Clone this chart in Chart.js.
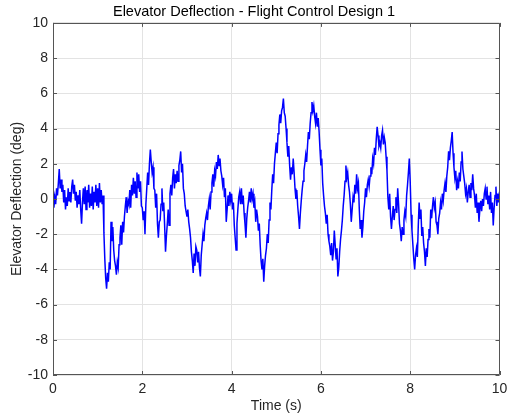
<!DOCTYPE html>
<html>
<head>
<meta charset="utf-8">
<script src="https://cdn.jsdelivr.net/npm/chart.js@4.4.0/dist/chart.umd.min.js"></script>
<style>
  html, body { margin: 0; padding: 0; background: #fff; }
  #wrap { width: 508px; height: 418px; }
</style>
</head>
<body>
<div id="wrap"><canvas id="chart" width="508" height="418"></canvas></div>
<script>
// muestreo de la señal (s)
const dt = 0.02;
const xTicks = [0, 2, 4, 6, 8, 10];
const yTicks = [-10, -8, -6, -4, -2, 0, 2, 4, 6, 8, 10];

// deflexión del elevador (deg), 5 muestras por cada 0.1 s
const deflection = [
  0.3, -0.5, 0.1, -0.3, 0.6,
  0.2, 0.9, 1.7, 0.6, 1.1,
  0.4, 0.8, -0.2, 0.5, -0.6,
  0.1, -0.4, 0.6, -0.1, 0.4,
  -0.2, 0.7, 1.1, 0.3, 0.8,
  -0.1, 0.4, -0.5, 0.2, -0.3,
  0.5, -0.6, -1.4, -0.2, 0.6,
  -0.3, 0.7, -0.6, 0.5, -0.2,
  0.8, -0.5, 0.3, -0.4, 0.7,
  -0.6, 0.4, -0.2, 0.8, -0.4,
  0.6, -0.5, 0.9, -0.2, 0.5,
  -0.3, 0.2, -1.9, -3.4, -4.5,
  -5.1, -4.2, -4.7, -3.6, -4.0,
  -1.3, -2.4, -1.6, -2.9, -3.5,
  -3.8, -4.3, -3.6, -3.9, -2.6,
  -2.2, -1.5, -2.6, -1.3, -1.9,
  -1.0, -0.4, 0.1, -0.8, -0.1,
  -0.3, 0.5, -0.5, 0.8, 0.2,
  1.2, 0.3, 1.0, 0.1, 1.5,
  0.6, 1.4, 0.4, 1.0, -0.4,
  -0.5, -1.2, -0.7, -2.0, -0.3,
  0.6, 1.5, 0.8, 2.0, 2.8,
  2.1, 1.5, 1.8, 0.6, 0.5,
  -0.5, 0.3, -1.4, -2.2, -1.3,
  -1.2, -0.3, 0.6, -0.7, -0.2,
  -1.5, -3.0, -2.1, -1.4, -0.6,
  -1.5, 0.3, 0.8, 0.2, 1.2,
  1.7, 0.6, 1.4, 0.9, 1.6,
  1.0, 1.9, 2.2, 2.7, 1.5,
  2.0, 0.6, 0.3, -0.4, -0.7,
  -1.0, -0.6, -1.3, -1.7, -2.2,
  -3.0, -3.5, -4.2, -3.1, -3.8,
  -2.7, -2.9, -3.6, -3.0, -3.9,
  -4.4, -3.2, -2.6, -2.0, -2.4,
  -1.5, -1.1, -0.8, -1.2, -0.4,
  0.0, -0.6, 0.4, 0.9, 1.4,
  0.7, 1.6, 1.3, 2.1, 1.7,
  2.5, 1.9, 2.3, 1.6, 1.3,
  0.8, 1.2, 0.1, 0.6, -1.3,
  -0.6, 0.2, -0.4, 0.4, -0.1,
  0.3, -0.6, -0.2, -1.5, -2.2,
  -2.9, -1.4, -0.6, 0.1, 0.4,
  -0.3, 0.6, -0.3, 0.2, -0.8,
  -1.4, -2.2, -1.1, -0.5, -0.1,
  0.4, -0.2, 0.6, 0.0, 0.3,
  -0.5, -0.2, -1.3, -0.6, -1.0,
  -1.8, -1.4, -2.6, -3.5, -4.0,
  -3.4, -4.7, -3.8, -3.2, -2.8,
  -2.0, -2.5, -1.2, -0.2, -0.6,
  0.5, 1.4, 0.9, 2.0, 2.6,
  3.2, 2.6, 3.7, 4.2, 4.8,
  4.3, 5.0, 5.2, 5.7, 4.9,
  4.7, 4.0, 3.2, 2.4, 3.0,
  1.9, 1.1, 1.8, 1.4, 2.3,
  1.5, 0.6, 0.0, 0.5, -0.4,
  -1.0, -1.7, -0.8, -0.1, 0.5,
  1.0, 1.6, 2.0, 2.5, 2.1,
  3.0, 3.8, 3.4, 4.3, 4.9,
  5.5, 5.0, 5.3, 4.7, 4.3,
  4.9, 4.1, 4.6, 3.8, 2.8,
  1.9, 2.3, 0.9, 0.2, -0.4,
  -0.8, -1.4, -0.9, -2.0, -2.4,
  -2.7, -3.2, -2.5, -3.5, -3.0,
  -1.8, -2.6, -3.4, -2.8, -4.4,
  -3.9, -3.0, -2.3, -1.8, -1.2,
  -0.4, 0.2, 1.0, 1.9, 1.2,
  1.5, 0.8, 0.4, -0.3, -1.3,
  -0.6, 0.1, -0.2, 0.8, 0.3,
  1.4, 0.6, 0.9, -0.6, -1.7,
  -1.2, -2.2, -1.6, -0.7, -0.2,
  0.6, 0.1, 0.8, 1.1, 0.7,
  1.3, 1.8, 1.4, 2.3, 2.0,
  2.9, 2.5, 3.4, 4.1, 3.6,
  3.0, 3.2, 2.9, 3.6, 3.9,
  3.1, 3.5, 3.2, 2.4, 1.6,
  0.1, -0.6, 0.3, -1.0, -1.7,
  -1.0, -0.4, -1.2, -0.6, 0.1,
  -0.8, 0.6, -0.3, -1.4, -1.8,
  -2.4, -1.6, -2.0, -1.2, -0.7,
  -1.0, 0.2, 0.8, 1.5, 2.3,
  1.0, -0.9, -1.8, -2.6, -3.4,
  -4.0, -3.2, -2.8, -3.3, -1.6,
  -0.2, -1.1, -0.6, -2.1, -1.6,
  -2.5, -3.0, -3.8, -2.8, -3.3,
  -2.3, -1.7, -2.2, -0.6, -1.1,
  -0.4, 0.1, -0.5, -0.2, -1.3,
  -1.5, -2.0, -1.1, -0.8, -0.2,
  -0.6, 0.3, -0.1, 0.5, 0.9,
  0.4, 1.3, 1.8, 2.7, 2.2,
  2.9, 3.3, 3.8, 2.6, 1.8,
  1.2, 1.6, 0.5, 1.0, 0.6,
  1.5, 1.0, 2.1, 2.7, 1.7,
  1.3, 0.9, 0.3, 0.6, -0.2,
  0.4, 0.8, 0.1, 0.9, 0.5,
  1.4, 0.6, 0.2, -0.5, 0.3,
  -0.8, -0.2, -1.3, -0.6, -0.1,
  -0.7, 0.0, -0.4, 0.3, 0.6,
  0.0, 0.7, -0.3, 0.2, -0.6,
  0.4, -0.8, -0.2, -1.5, -0.5,
  0.2, 0.7, -0.4, 0.3, -0.2,
  0.4
];

const points = deflection.map((v, i) => ({ x: +(i * dt).toFixed(2), y: v }));

const FONT = "'Liberation Sans', Arial, Helvetica, sans-serif";
const AXIS_COLOR = '#262626';

// caja estilo MATLAB: bordes superior/derecho y marcas hacia adentro
const boxPlugin = {
  id: 'boxTicks',
  afterDatasetsDraw(chart) {
    const { ctx, chartArea: a, scales: { x, y } } = chart;
    ctx.save();
    ctx.strokeStyle = '#555';
    ctx.lineWidth = 1;
    ctx.beginPath();
    ctx.rect(Math.round(a.left) + 0.5, Math.round(a.top) + 0.5,
             Math.round(a.right - a.left) - 1, Math.round(a.bottom - a.top) - 1);
    ctx.stroke();
    ctx.beginPath();
    xTicks.forEach(t => {
      const px = Math.round(x.getPixelForValue(t)) + 0.5;
      ctx.moveTo(px, a.bottom); ctx.lineTo(px, a.bottom - 4);
      ctx.moveTo(px, a.top); ctx.lineTo(px, a.top + 4);
    });
    yTicks.forEach(t => {
      const py = Math.round(y.getPixelForValue(t)) + 0.5;
      ctx.moveTo(a.left, py); ctx.lineTo(a.left + 4, py);
      ctx.moveTo(a.right, py); ctx.lineTo(a.right - 4, py);
    });
    ctx.stroke();
    ctx.restore();
  }
};

new Chart(document.getElementById('chart').getContext('2d'), {
  type: 'line',
  data: {
    datasets: [{
      data: points,
      borderColor: '#0000ff',
      borderWidth: 1.5,
      pointRadius: 0,
      tension: 0,
      fill: false
    }]
  },
  options: {
    responsive: false,
    animation: false,
    layout: { padding: { left: 0, right: 0, top: 0, bottom: 0 } },
    plugins: {
      legend: { display: false },
      tooltip: { enabled: false },
      title: {
        display: true,
        text: 'Elevator Deflection - Flight Control Design 1',
        color: '#000',
        font: { family: FONT, size: 14.5, weight: 'normal' },
        padding: { top: 3, bottom: 2.5 }
      }
    },
    scales: {
      x: {
        type: 'linear',
        min: 0, max: 10,
        afterBuildTicks: s => { s.ticks = xTicks.map(v => ({ value: v })); },
        afterFit: s => { s.height = 43; s.paddingRight = 8.5; s.paddingLeft = 0; },
        grid: { color: '#e3e3e3', drawTicks: false },
        border: { display: false },
        ticks: { color: AXIS_COLOR, font: { family: FONT, size: 14 }, padding: 6, maxRotation: 0 },
        title: { display: true, text: 'Time (s)', color: AXIS_COLOR, font: { family: FONT, size: 14 }, padding: { top: 2, bottom: 3 } }
      },
      y: {
        type: 'linear',
        min: -10, max: 10,
        afterBuildTicks: s => { s.ticks = yTicks.map(v => ({ value: v })); },
        afterFit: s => { s.width = 53; s.paddingTop = 0; s.paddingBottom = 0; },
        grid: { color: '#e3e3e3', drawTicks: false },
        border: { display: false },
        ticks: { color: AXIS_COLOR, font: { family: FONT, size: 14 }, padding: 5 },
        title: { display: true, text: 'Elevator Deflection (deg)', color: AXIS_COLOR, font: { family: FONT, size: 14 }, padding: { top: 9, bottom: 2 } }
      }
    }
  },
  plugins: [boxPlugin]
});
</script>
</body>
</html>
